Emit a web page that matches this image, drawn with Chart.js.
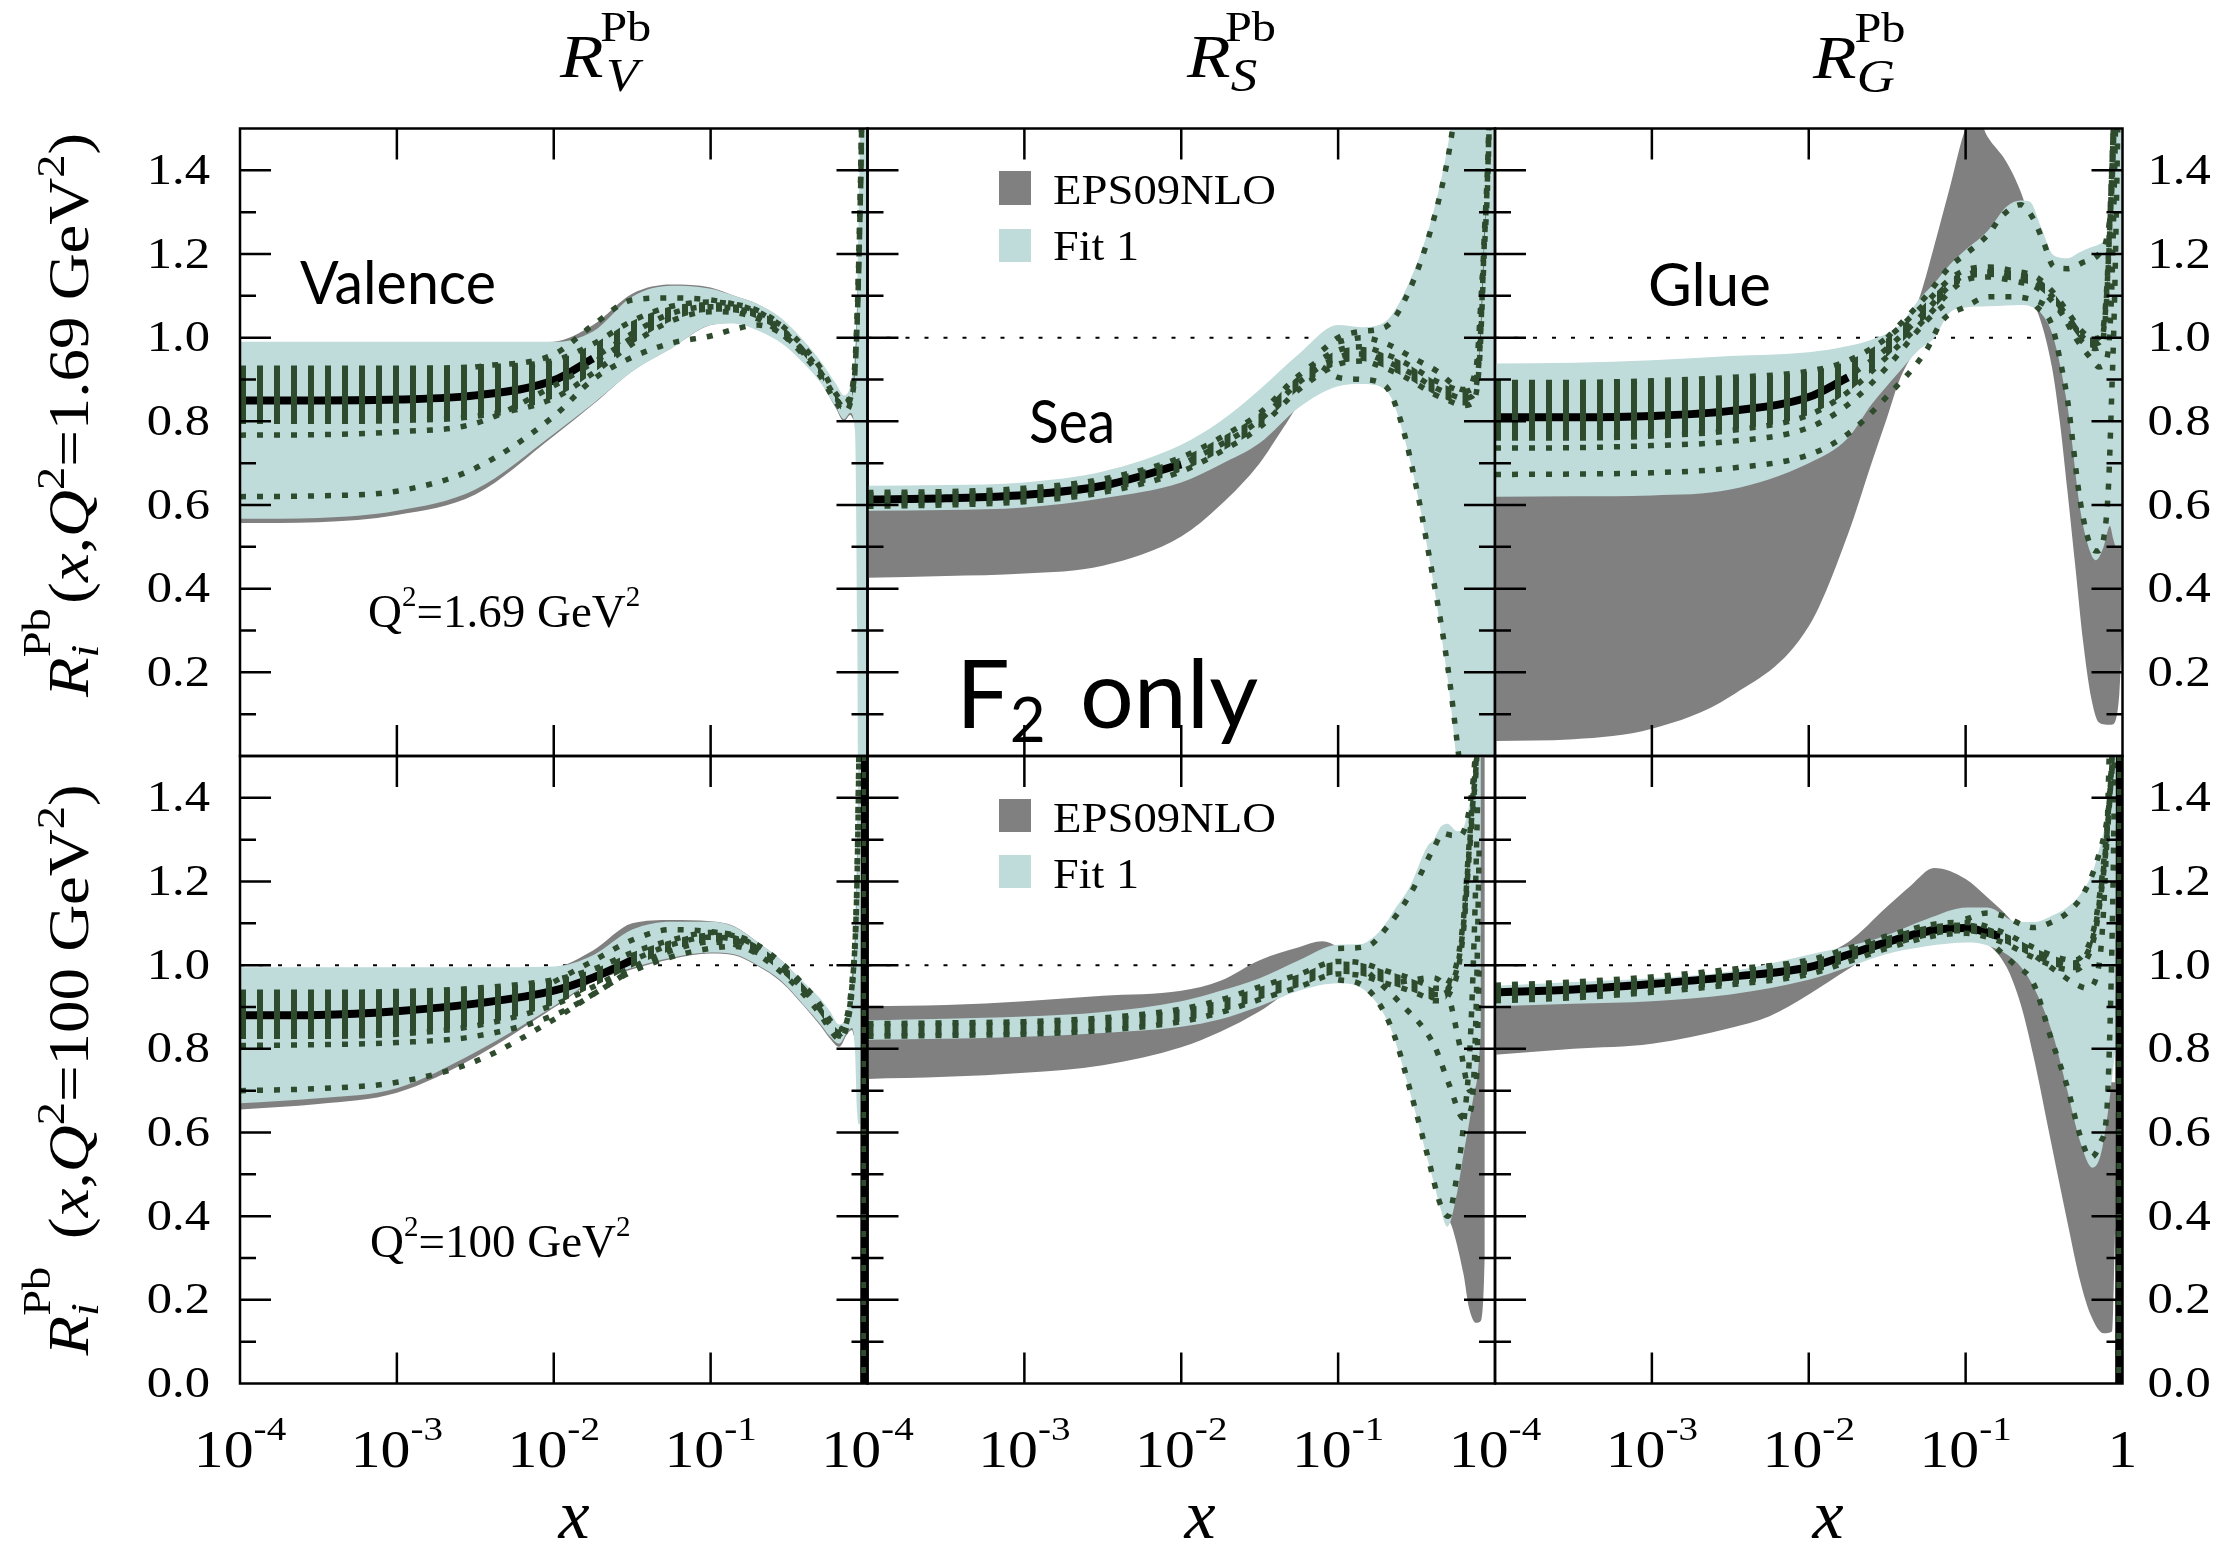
<!DOCTYPE html>
<html>
<head>
<meta charset="utf-8">
<title>Pb nuclear modification ratios</title>
<script src="https://cdn.jsdelivr.net/npm/chart.js@4.4.1/dist/chart.umd.min.js"></script>
<style>
  html, body { margin: 0; padding: 0; background: #fff; }
  #page { position: relative; width: 2237px; height: 1543px; overflow: hidden; background: #fff; }
  #page canvas, #page svg { position: absolute; left: 0; top: 0; }
</style>
</head>
<body>
<div id="page">
  <canvas id="p1" width="2237" height="1543"></canvas>
  <canvas id="p2" width="2237" height="1543"></canvas>
  <canvas id="p3" width="2237" height="1543"></canvas>
  <canvas id="p4" width="2237" height="1543"></canvas>
  <canvas id="p5" width="2237" height="1543"></canvas>
  <canvas id="p6" width="2237" height="1543"></canvas>

  <svg width="2237" height="1543" font-family="'Liberation Serif', serif" fill="#000">
    <!-- column headers -->
    <g transform="translate(560 77) scale(1.15 1)">
      <text font-size="62" font-style="italic">R</text>
      <text x="40" y="14" font-size="46" font-style="italic">V</text>
      <text x="35" y="-36" font-size="42">Pb</text>
    </g>
    <g transform="translate(1187 77) scale(1.15 1)">
      <text font-size="62" font-style="italic">R</text>
      <text x="38" y="14" font-size="46" font-style="italic">S</text>
      <text x="33" y="-36" font-size="42">Pb</text>
    </g>
    <g transform="translate(1813 78) scale(1.15 1)">
      <text font-size="62" font-style="italic">R</text>
      <text x="38" y="14" font-size="46" font-style="italic">G</text>
      <text x="36" y="-36" font-size="42">Pb</text>
    </g>

    <!-- y axis titles -->
    <g transform="translate(88 415) rotate(-90) scale(1.16 1)">
      <text font-size="56" text-anchor="middle"><tspan font-style="italic">R</tspan><tspan font-size="40" font-style="italic" dy="10">i</tspan><tspan font-size="40" dx="-11" dy="-48">Pb</tspan><tspan dy="38" dx="4">(</tspan><tspan font-style="italic">x</tspan><tspan>,</tspan><tspan font-style="italic">Q</tspan><tspan font-size="40" dy="-24">2</tspan><tspan dy="24">=1.69 GeV</tspan><tspan font-size="40" dy="-24">2</tspan><tspan dy="24">)</tspan></text>
    </g>
    <g transform="translate(88 1070) rotate(-90) scale(1.16 1)">
      <text font-size="56" text-anchor="middle"><tspan font-style="italic">R</tspan><tspan font-size="40" font-style="italic" dy="10">i</tspan><tspan font-size="40" dx="-11" dy="-48">Pb</tspan><tspan dy="38" dx="24">(</tspan><tspan font-style="italic">x</tspan><tspan>,</tspan><tspan font-style="italic">Q</tspan><tspan font-size="40" dy="-24">2</tspan><tspan dy="24">=100 GeV</tspan><tspan font-size="40" dy="-24">2</tspan><tspan dy="24">)</tspan></text>
    </g>

    <!-- x axis titles -->
    <text x="574" y="1538" font-size="70" font-style="italic" text-anchor="middle">x</text>
    <text x="1200" y="1538" font-size="70" font-style="italic" text-anchor="middle">x</text>
    <text x="1828" y="1538" font-size="70" font-style="italic" text-anchor="middle">x</text>

    <!-- panel annotations -->
    <text x="300" y="304" font-family="Lato" font-size="60" textLength="196" lengthAdjust="spacingAndGlyphs">Valence</text>
    <text x="1029" y="443" font-family="Lato" font-size="60" textLength="86" lengthAdjust="spacingAndGlyphs">Sea</text>
    <text x="1648" y="306" font-family="Lato" font-size="60">Glue</text>
    <text x="956" y="728" font-family="Lato" font-size="95">F<tspan font-size="62" dy="14">2</tspan><tspan x="1080" dy="-14">only</tspan></text>

    <text x="368" y="627" font-size="47">Q<tspan font-size="29" dy="-21">2</tspan><tspan dy="21">=1.69 GeV</tspan><tspan font-size="29" dy="-21">2</tspan></text>
    <text x="370" y="1257" font-size="47">Q<tspan font-size="29" dy="-21">2</tspan><tspan dy="21">=100 GeV</tspan><tspan font-size="29" dy="-21">2</tspan></text>

    <!-- legends -->
    <rect x="999" y="171" width="32" height="34" fill="#808080"/>
    <rect x="999" y="229" width="32" height="33" fill="#bfdbda"/>
    <text x="1053" y="204" font-size="43" textLength="223" lengthAdjust="spacingAndGlyphs">EPS09NLO</text>
    <text x="1053" y="260" font-size="43" textLength="86" lengthAdjust="spacingAndGlyphs">Fit 1</text>
    <rect x="999" y="799" width="32" height="33" fill="#808080"/>
    <rect x="999" y="855" width="32" height="33" fill="#bfdbda"/>
    <text x="1053" y="832" font-size="43" textLength="223" lengthAdjust="spacingAndGlyphs">EPS09NLO</text>
    <text x="1053" y="888" font-size="43" textLength="86" lengthAdjust="spacingAndGlyphs">Fit 1</text>
  </svg>
</div>

<script>
// Every curve is a list of [log10(x), value] points; bands are [log10(x), low, high].
// "eps" = EPS09NLO band, "fit" = Fit 1 band, "mid" = central fit,
// "set" = spread of the error-set members, "dot*" = individual error sets.

const yMajor = [0.2, 0.4, 0.6, 0.8, 1.0, 1.2, 1.4];
const yMinor = [0.1, 0.3, 0.5, 0.7, 0.9, 1.1, 1.3];
const xMajor = [1e-3, 1e-2, 1e-1];
const yLabelsTop = [0.2, 0.4, 0.6, 0.8, 1.0, 1.2, 1.4];
const yLabelsBottom = [0.0, 0.2, 0.4, 0.6, 0.8, 1.0, 1.2, 1.4];
const xExpInner = [-4, -3, -2, -1];
const xExpLast = [-4, -3, -2, -1, 0];
const unitRatio = [[-4, 1.0], [0, 1.0]];

// ---- valence, Q2 = 1.69 GeV2 ----
const V1_eps = [[-4,0.557,0.985],[-3.5,0.559,0.985],[-3,0.576,0.985],[-2.5,0.625,0.985],[-2,0.765,0.99],[-1.75,0.84,1.03],[-1.5,0.92,1.105],[-1.25,0.975,1.127],[-1,1.03,1.12],[-0.85,1.035,1.1],[-0.7,1.02,1.08],[-0.55,0.99,1.045],[-0.4,0.94,0.985],[-0.3,0.895,0.94],[-0.2,0.83,0.885],[-0.15,0.80,0.86],[-0.11,0.815,0.88],[-0.08,0.80,0.95],[-0.07,0.80,1.0]];
const V1_fit = [[-4,0.567,0.990],[-3.5,0.569,0.990],[-3,0.586,0.990],[-2.5,0.637,0.990],[-2,0.770,0.990],[-1.75,0.842,1.015],[-1.5,0.919,1.098],[-1.25,0.974,1.124],[-1,1.030,1.117],[-0.85,1.034,1.100],[-0.7,1.017,1.080],[-0.55,0.987,1.047],[-0.4,0.936,0.990],[-0.3,0.893,0.944],[-0.2,0.833,0.889],[-0.15,0.805,0.862],[-0.11,0.82,0.885],[-0.08,0.78,0.97],[-0.065,0.3,1.12],[-0.055,-0.5,1.32],[-0.04,-0.5,1.6],[0,-0.5,1.6]];
const V1_mid = [[-4,0.850],[-3.5,0.850],[-3,0.852],[-2.5,0.862],[-2,0.898],[-1.75,0.950],[-1.5,1.010],[-1.25,1.058],[-1,1.074],[-0.85,1.070],[-0.7,1.055],[-0.55,1.020],[-0.4,0.965],[-0.3,0.918],[-0.2,0.855],[-0.15,0.834],[-0.11,0.853],[-0.08,0.93],[-0.063,1.078],[-0.05,1.27],[-0.038,1.5],[-0.03,1.8]];
const V1_set = [[-4,0.800,0.927],[-3.5,0.800,0.927],[-3,0.802,0.927],[-2.5,0.812,0.930],[-2,0.855,0.945],[-1.75,0.915,0.985],[-1.5,0.985,1.040],[-1.25,1.040,1.075],[-1,1.062,1.085],[-0.85,1.060,1.080],[-0.7,1.045,1.065],[-0.55,1.010,1.030],[-0.4,0.955,0.975],[-0.3,0.908,0.928],[-0.2,0.845,0.865],[-0.15,0.824,0.844],[-0.11,0.843,0.863],[-0.08,0.92,0.94],[-0.063,1.068,1.088],[-0.05,1.26,1.28],[-0.038,1.49,1.51],[-0.03,1.8,1.8]];
const V1_dotA = [[-4,0.767],[-3.5,0.768],[-3,0.775],[-2.5,0.795],[-2,0.885],[-1.75,0.94],[-1.5,1.0]];
const V1_dotB = [[-4,0.620],[-3.5,0.622],[-3,0.633],[-2.5,0.688],[-2,0.812],[-1.75,0.90],[-1.5,0.953],[-1.25,0.987],[-1,1.004],[-0.85,1.02],[-0.7,1.03],[-0.55,1.01],[-0.4,0.96]];
const V1_dotC = [[-2.5,0.93],[-2,0.96],[-1.75,1.03],[-1.5,1.09],[-1.25,1.095],[-1,1.09],[-0.85,1.08],[-0.7,1.062],[-0.55,1.03]];

// ---- sea, Q2 = 1.69 GeV2 ----
const S1_eps = [[-4,0.426,0.60],[-3.5,0.430,0.60],[-3,0.436,0.61],[-2.5,0.455,0.63],[-2,0.525,0.67],[-1.75,0.60,0.72],[-1.5,0.70,0.77],[-1.35,0.784,0.82],[-1.2,0.865,0.88],[-1,0.89,0.95],[-0.7,0.89,0.96],[-0.55,0.80,1.0],[-0.4,0.6,1.1],[-0.2,0.4,1.3],[0,0.4,1.3]];
const S1_fit = [[-4,0.586,0.646],[-3.5,0.588,0.648],[-3,0.594,0.654],[-2.5,0.616,0.680],[-2,0.654,0.744],[-1.75,0.697,0.800],[-1.5,0.748,0.876],[-1.25,0.833,0.961],[-1,0.884,1.030],[-0.85,0.889,1.025],[-0.7,0.876,1.038],[-0.55,0.72,1.13],[-0.4,0.43,1.29],[-0.3,0.18,1.46],[-0.2,-0.1,1.7],[0,-0.1,1.7]];
const S1_mid = [[-4,0.613],[-3.5,0.616],[-3,0.624],[-2.5,0.646],[-2,0.697],[-1.75,0.744],[-1.5,0.803],[-1.25,0.893],[-1,0.953],[-0.85,0.961],[-0.7,0.944],[-0.55,0.918],[-0.4,0.884],[-0.3,0.867],[-0.2,0.855],[-0.15,0.859],[-0.1,0.953],[-0.07,1.21],[-0.04,1.48],[-0.03,1.7]];
const S1_set = [[-4,0.597,0.630],[-3.5,0.600,0.632],[-3,0.608,0.640],[-2.5,0.630,0.662],[-2,0.680,0.714],[-1.75,0.727,0.761],[-1.5,0.786,0.820],[-1.25,0.876,0.910],[-1,0.936,0.970],[-0.85,0.944,0.978],[-0.7,0.927,0.961],[-0.55,0.901,0.935],[-0.4,0.867,0.901],[-0.3,0.850,0.884],[-0.2,0.838,0.872],[-0.15,0.842,0.876],[-0.1,0.936,0.970],[-0.07,1.19,1.23],[-0.04,1.46,1.50],[-0.03,1.7,1.7]];
const S1_dotUp = [[-1.1,0.97],[-1,1.0],[-0.85,1.015],[-0.7,1.025],[-0.55,1.11],[-0.4,1.27],[-0.3,1.43],[-0.25,1.55]];
const S1_dotDn = [[-1.1,0.93],[-1,0.905],[-0.85,0.90],[-0.7,0.885],[-0.6,0.80],[-0.5,0.64],[-0.43,0.50],[-0.3,0.21],[-0.25,0.06],[-0.2,-0.1]];
const S1_dotMid = [[-1,0.99],[-0.85,1.0],[-0.69,0.985],[-0.53,0.953],[-0.37,0.92],[-0.2,0.876],[-0.12,0.93],[-0.08,1.15]];

// ---- glue, Q2 = 1.69 GeV2 ----
const G1_eps = [[-4,0.036,0.80],[-3.5,0.040,0.80],[-3,0.065,0.80],[-2.5,0.142,0.81],[-2,0.31,0.85],[-1.75,0.53,0.90],[-1.6,0.70,0.95],[-1.5,0.81,0.99],[-1.42,0.90,1.0],[-1.3,0.98,1.09],[-1.2,1.02,1.22],[-1.1,1.08,1.36],[-1,1.09,1.50],[-0.93,1.10,1.53],[-0.86,1.10,1.48],[-0.74,1.10,1.42],[-0.65,1.10,1.35],[-0.59,1.09,1.28],[-0.55,1.07,1.22],[-0.45,0.93,1.1],[-0.4,0.80,1.05],[-0.35,0.63,1.0],[-0.3,0.45,0.95],[-0.25,0.27,0.9],[-0.2,0.14,0.85],[-0.15,0.08,0.8],[-0.1,0.075,0.8],[-0.07,0.075,0.75],[-0.04,0.09,0.7],[-0.02,0.15,0.6],[0,0.3,0.55]];
const G1_fit = [[-4,0.620,0.938],[-3.5,0.621,0.940],[-3,0.623,0.946],[-2.5,0.637,0.956],[-2,0.70,0.965],[-1.75,0.76,0.98],[-1.6,0.84,0.995],[-1.42,0.92,1.03],[-1.3,0.97,1.09],[-1.2,1.0,1.13],[-1.1,1.06,1.175],[-1,1.072,1.21],[-0.86,1.075,1.255],[-0.74,1.077,1.313],[-0.65,1.078,1.328],[-0.59,1.075,1.325],[-0.52,1.059,1.265],[-0.44,1.0,1.197],[-0.35,0.834,1.19],[-0.27,0.59,1.205],[-0.2,0.482,1.216],[-0.17,0.468,1.22],[-0.12,0.50,1.23],[-0.08,0.55,1.27],[-0.06,0.52,1.45],[-0.04,0.5,1.7],[0,0.5,1.7]];
const G1_mid = [[-4,0.810],[-3.5,0.810],[-3,0.813],[-2.5,0.825],[-2,0.858],[-1.75,0.905],[-1.5,0.975],[-1.25,1.065],[-1.1,1.125],[-1,1.150],[-0.85,1.157],[-0.7,1.148],[-0.55,1.133],[-0.45,1.10],[-0.35,1.05],[-0.25,1.0],[-0.17,0.986],[-0.13,1.0],[-0.1,1.11],[-0.07,1.38],[-0.05,1.6]];
const G1_set = [[-4,0.760,0.893],[-3.5,0.760,0.893],[-3,0.765,0.897],[-2.5,0.778,0.905],[-2,0.815,0.92],[-1.75,0.87,0.945],[-1.5,0.955,1.0],[-1.25,1.048,1.085],[-1.1,1.11,1.14],[-1,1.138,1.162],[-0.85,1.145,1.169],[-0.7,1.136,1.16],[-0.55,1.12,1.145],[-0.45,1.088,1.112],[-0.35,1.038,1.062],[-0.25,0.988,1.012],[-0.17,0.974,0.998],[-0.13,0.988,1.012],[-0.1,1.098,1.122],[-0.07,1.37,1.39],[-0.05,1.6,1.6]];
const G1_dotA = [[-4,0.736],[-3.5,0.737],[-3,0.742],[-2.5,0.752],[-2,0.785],[-1.75,0.84],[-1.5,0.93],[-1.25,1.04],[-1.1,1.09]];
const G1_dotB = [[-4,0.673],[-3.5,0.674],[-3,0.677],[-2.5,0.688],[-2,0.72],[-1.75,0.77],[-1.5,0.86],[-1.25,0.97],[-1.15,1.04],[-1,1.074],[-0.85,1.098],[-0.7,1.098],[-0.55,1.088],[-0.45,1.07]];
const G1_dotUp = [[-1.5,1.0],[-1.25,1.1],[-1.1,1.17],[-1,1.2],[-0.86,1.245],[-0.77,1.29],[-0.65,1.318],[-0.57,1.285],[-0.5,1.225],[-0.44,1.17],[-0.35,1.165],[-0.25,1.18],[-0.15,1.2],[-0.1,1.24],[-0.07,1.34],[-0.05,1.55]];
const G1_dotDn = [[-0.55,1.075],[-0.45,1.03],[-0.4,0.95],[-0.35,0.85],[-0.27,0.61],[-0.2,0.50],[-0.16,0.49],[-0.12,0.52],[-0.09,0.64],[-0.07,0.85],[-0.05,1.1],[-0.03,1.5]];
const G1_dotMid = [[-0.4,1.07],[-0.3,1.0],[-0.2,0.95],[-0.15,0.93],[-0.1,0.95],[-0.07,1.1],[-0.05,1.4],[-0.04,1.6]];

// ---- valence, Q2 = 100 GeV2 ----
const V2_eps = [[-4,0.655,0.99],[-3.5,0.668,0.99],[-3,0.695,0.99],[-2.5,0.78,0.99],[-2,0.898,0.995],[-1.75,0.96,1.035],[-1.5,0.99,1.1],[-1.25,1.015,1.108],[-1,1.028,1.105],[-0.85,1.024,1.093],[-0.7,0.998,1.055],[-0.55,0.96,1.012],[-0.4,0.9,0.955],[-0.3,0.855,0.918],[-0.24,0.825,0.888],[-0.18,0.805,0.855],[-0.13,0.835,0.885],[-0.1,0.845,0.95],[-0.08,0.82,1.0]];
const V2_fit = [[-4,0.670,0.995],[-3.5,0.682,0.995],[-3,0.706,0.995],[-2.5,0.792,0.995],[-2,0.902,0.997],[-1.75,0.963,1.024],[-1.5,0.994,1.085],[-1.25,1.018,1.104],[-1,1.030,1.104],[-0.85,1.026,1.092],[-0.7,1.0,1.055],[-0.55,0.963,1.012],[-0.4,0.902,0.957],[-0.3,0.859,0.920],[-0.24,0.83,0.89],[-0.18,0.812,0.858],[-0.13,0.84,0.89],[-0.1,0.85,0.98],[-0.08,0.80,1.1],[-0.066,0.65,1.3],[-0.055,0.62,1.55],[-0.045,0.62,1.7]];
const V2_mid = [[-4,0.880],[-3.5,0.881],[-3,0.890],[-2.5,0.908],[-2,0.939],[-1.75,0.970],[-1.5,1.012],[-1.25,1.049],[-1,1.067],[-0.85,1.061],[-0.7,1.037],[-0.55,0.994],[-0.4,0.939],[-0.3,0.893],[-0.24,0.858],[-0.18,0.835],[-0.13,0.868],[-0.1,0.945],[-0.077,1.074],[-0.066,1.22],[-0.055,1.5],[-0.048,1.8]];
const V2_set = [[-4,0.830,0.935],[-3.5,0.830,0.935],[-3,0.835,0.937],[-2.5,0.855,0.945],[-2,0.905,0.965],[-1.75,0.948,0.99],[-1.5,0.995,1.03],[-1.25,1.035,1.06],[-1,1.055,1.078],[-0.85,1.05,1.072],[-0.7,1.026,1.048],[-0.55,0.983,1.005],[-0.4,0.928,0.95],[-0.3,0.882,0.904],[-0.24,0.847,0.869],[-0.18,0.824,0.846],[-0.13,0.857,0.879],[-0.1,0.934,0.956],[-0.077,1.063,1.085],[-0.066,1.21,1.23],[-0.055,1.49,1.51],[-0.048,1.8,1.8]];
const V2_dotA = [[-4,0.808],[-3.5,0.810],[-3,0.815],[-2.5,0.83],[-2,0.88],[-1.75,0.93],[-1.5,0.99]];
const V2_dotB = [[-4,0.700],[-3.5,0.705],[-3,0.72],[-2.5,0.77],[-2,0.87],[-1.75,0.93],[-1.5,0.985],[-1.25,1.02],[-1,1.04],[-0.85,1.045],[-0.7,1.03]];
const V2_dotC = [[-2,0.96],[-1.75,1.01],[-1.5,1.06],[-1.25,1.085],[-1,1.08],[-0.85,1.07],[-0.7,1.045]];
const V2_pole = [[-0.022,-0.3],[-0.016,1.8]];

// ---- sea, Q2 = 100 GeV2 ----
const S2_eps = [[-4,0.728,0.902],[-3.5,0.733,0.905],[-3,0.743,0.914],[-2.5,0.761,0.927],[-2,0.804,0.939],[-1.75,0.841,0.963],[-1.5,0.89,1.012],[-1.25,0.951,1.043],[-1.1,0.96,1.057],[-1,0.965,1.043],[-0.86,0.96,1.0],[-0.75,0.93,0.98],[-0.645,0.86,0.97],[-0.54,0.74,0.96],[-0.43,0.60,0.95],[-0.35,0.48,0.95],[-0.3,0.40,0.95],[-0.27,0.37,0.97],[-0.2,0.26,1.0],[-0.165,0.18,1.15],[-0.12,0.145,1.45],[-0.09,0.15,1.6],[-0.075,0.2,1.6],[-0.065,0.3,1.6]];
const S2_fit = [[-4,0.822,0.868],[-3.5,0.824,0.872],[-3,0.829,0.877],[-2.5,0.838,0.888],[-2,0.853,0.914],[-1.75,0.871,0.939],[-1.5,0.902,0.969],[-1.25,0.939,1.012],[-1,0.957,1.049],[-0.86,0.947,1.05],[-0.75,0.908,1.075],[-0.69,0.87,1.103],[-0.645,0.829,1.13],[-0.54,0.693,1.19],[-0.43,0.536,1.285],[-0.39,0.48,1.30],[-0.347,0.418,1.33],[-0.304,0.375,1.338],[-0.24,0.459,1.32],[-0.2,0.55,1.33],[-0.166,0.62,1.38],[-0.135,0.69,1.46],[-0.113,0.731,1.55],[-0.09,0.83,1.65]];
const S2_mid = [[-4,0.845],[-3.5,0.847],[-3,0.850],[-2.5,0.859],[-2,0.880],[-1.75,0.902],[-1.5,0.933],[-1.25,0.963],[-1,0.994],[-0.85,0.99],[-0.7,0.972],[-0.55,0.955],[-0.45,0.94],[-0.39,0.93],[-0.33,0.93],[-0.28,0.955],[-0.24,0.996],[-0.2,1.10],[-0.166,1.27],[-0.135,1.416],[-0.117,1.5],[-0.1,1.7]];
const S2_set = [[-4,0.830,0.860],[-3.5,0.832,0.862],[-3,0.835,0.865],[-2.5,0.844,0.874],[-2,0.865,0.895],[-1.75,0.887,0.917],[-1.5,0.918,0.948],[-1.25,0.948,0.978],[-1,0.979,1.009],[-0.85,0.975,1.005],[-0.7,0.957,0.987],[-0.55,0.94,0.97],[-0.45,0.925,0.955],[-0.39,0.915,0.945],[-0.33,0.915,0.945],[-0.28,0.94,0.97],[-0.24,0.981,1.011],[-0.2,1.085,1.115],[-0.166,1.255,1.285],[-0.135,1.40,1.43],[-0.117,1.49,1.51],[-0.1,1.7,1.7]];
const S2_dotUp = [[-1,1.04],[-0.815,1.045],[-0.69,1.09],[-0.54,1.17],[-0.39,1.28],[-0.33,1.315],[-0.27,1.31],[-0.22,1.31],[-0.17,1.36],[-0.14,1.44],[-0.12,1.53]];
const S2_dotDn = [[-1,0.965],[-0.86,0.955],[-0.75,0.915],[-0.645,0.835],[-0.54,0.70],[-0.43,0.545],[-0.35,0.43],[-0.3,0.40],[-0.25,0.48],[-0.2,0.62],[-0.16,0.8],[-0.13,1.1],[-0.11,1.4]];
const S2_dotMid = [[-0.8,0.98],[-0.6,0.908],[-0.39,0.81],[-0.29,0.712],[-0.2,0.634],[-0.15,0.66],[-0.12,0.9],[-0.1,1.3]];
const S2_dotMid2 = [[-0.6,0.96],[-0.4,0.97],[-0.3,0.93],[-0.22,0.80],[-0.16,0.70],[-0.12,0.72],[-0.1,1.0]];

// ---- glue, Q2 = 100 GeV2 ----
const G2_eps = [[-4,0.786,0.94],[-3.5,0.80,0.945],[-3,0.812,0.955],[-2.5,0.85,0.975],[-2.25,0.878,0.99],[-2,0.93,1.015],[-1.75,0.99,1.055],[-1.5,1.05,1.14],[-1.35,1.07,1.19],[-1.2,1.08,1.232],[-1,1.07,1.206],[-0.86,1.05,1.162],[-0.74,0.996,1.12],[-0.65,0.908,1.08],[-0.566,0.78,1.05],[-0.46,0.585,0.98],[-0.353,0.389,0.92],[-0.268,0.242,0.86],[-0.204,0.165,0.8],[-0.12,0.12,0.75],[-0.065,0.125,0.72],[-0.045,0.4,0.72]];
const G2_fit = [[-4,0.902,0.951],[-3.5,0.908,0.96],[-3,0.914,0.969],[-2.5,0.93,0.985],[-2,0.965,1.025],[-1.75,0.995,1.045],[-1.52,1.025,1.069],[-1.25,1.045,1.11],[-0.99,1.054,1.138],[-0.86,1.047,1.138],[-0.67,1.005,1.103],[-0.566,0.947,1.103],[-0.44,0.829,1.12],[-0.353,0.702,1.138],[-0.268,0.576,1.17],[-0.193,0.516,1.22],[-0.14,0.545,1.289],[-0.098,0.634,1.36],[-0.076,0.70,1.42],[-0.06,0.75,1.55],[-0.04,0.8,1.7],[-0.015,0.8,1.7]];
const G2_mid = [[-4,0.935],[-3.5,0.942],[-3,0.955],[-2.5,0.972],[-2,0.995],[-1.75,1.025],[-1.5,1.055],[-1.2,1.084],[-1,1.089],[-0.78,1.069],[-0.566,1.03],[-0.4,1.005],[-0.31,1.0],[-0.247,1.015],[-0.183,1.074],[-0.14,1.172],[-0.098,1.318],[-0.076,1.436],[-0.065,1.5],[-0.055,1.7]];
const G2_set = [[-4,0.915,0.952],[-3.5,0.922,0.96],[-3,0.935,0.972],[-2.5,0.953,0.99],[-2,0.978,1.012],[-1.75,1.008,1.04],[-1.5,1.04,1.07],[-1.2,1.07,1.098],[-1,1.076,1.102],[-0.78,1.057,1.081],[-0.566,1.018,1.042],[-0.4,0.993,1.017],[-0.31,0.988,1.012],[-0.247,1.003,1.027],[-0.183,1.062,1.086],[-0.14,1.16,1.184],[-0.098,1.306,1.33],[-0.076,1.425,1.447],[-0.065,1.49,1.51],[-0.055,1.7,1.7]];
const G2_dotUp = [[-1,1.11],[-0.86,1.125],[-0.78,1.12],[-0.566,1.09],[-0.44,1.105],[-0.353,1.125],[-0.25,1.17],[-0.162,1.25],[-0.098,1.35],[-0.08,1.41],[-0.065,1.52]];
const G2_dotDn = [[-0.8,1.04],[-0.7,1.005],[-0.566,0.955],[-0.459,0.829],[-0.353,0.71],[-0.268,0.59],[-0.204,0.54],[-0.14,0.576],[-0.1,0.65],[-0.08,0.85],[-0.06,1.2],[-0.05,1.5]];
const G2_dotMid = [[-0.55,1.02],[-0.4,0.98],[-0.3,0.955],[-0.226,0.945],[-0.15,1.0],[-0.1,1.3],[-0.085,1.5]];
const G2_pole = [[-0.022,-0.3],[-0.016,1.8]];

const GREEN = '#2e4b2e';
const TEAL = '#bfdbda';
const GREY = '#808080';
const DOT = [6, 11];
const W = 2237, H = 1543;

// plot boxes: [left, top, right, bottom] in page pixels
const panels = [
  { canvas: 'p1', box: [240, 128.5, 867.5, 756], eps: V1_eps, fit: V1_fit, mid: V1_mid, set: V1_set,
    dots: [V1_dotA, V1_dotB, V1_dotC], blackTo: -1.75, greenFrom: -1.75, unit: false, pole: null,
    axes: { ySide: 'left', bottomRow: false, xExps: null } },
  { canvas: 'p2', box: [867.5, 128.5, 1495, 756], eps: S1_eps, fit: S1_fit, mid: S1_mid, set: S1_set,
    dots: [S1_dotUp, S1_dotDn, S1_dotMid], blackTo: -2, greenFrom: -2, unit: true, pole: null,
    axes: { ySide: null, bottomRow: false, xExps: null } },
  { canvas: 'p3', box: [1495, 128.5, 2122.5, 756], eps: G1_eps, fit: G1_fit, mid: G1_mid, set: G1_set,
    dots: [G1_dotA, G1_dotB, G1_dotUp, G1_dotDn, G1_dotMid], blackTo: -1.75, greenFrom: -1.75, unit: true, pole: null,
    axes: { ySide: 'right', bottomRow: false, xExps: null } },
  { canvas: 'p4', box: [240, 756, 867.5, 1383.5], eps: V2_eps, fit: V2_fit, mid: V2_mid, set: V2_set,
    dots: [V2_dotA, V2_dotB, V2_dotC], blackTo: -1.5, greenFrom: -1.5, unit: true, pole: V2_pole,
    axes: { ySide: 'left', bottomRow: true, xExps: xExpInner } },
  { canvas: 'p5', box: [867.5, 756, 1495, 1383.5], eps: S2_eps, fit: S2_fit, mid: S2_mid, set: S2_set,
    dots: [S2_dotUp, S2_dotDn, S2_dotMid, S2_dotMid2], blackTo: -9, greenFrom: -0.45, unit: true, pole: null,
    axes: { ySide: null, bottomRow: true, xExps: xExpInner } },
  { canvas: 'p6', box: [1495, 756, 2122.5, 1383.5], eps: G2_eps, fit: G2_fit, mid: G2_mid, set: G2_set,
    dots: [G2_dotUp, G2_dotDn, G2_dotMid], blackTo: -0.7, greenFrom: -0.7, unit: true, pole: G2_pole,
    axes: { ySide: 'right', bottomRow: true, xExps: xExpLast } }
];

// frame, inward ticks and tick labels for one panel
const panelAxes = {
  id: 'panelAxes',
  afterDatasetsDraw(chart, args, o) {
    const { ctx, chartArea: a } = chart;
    const x = chart.scales.x, y = chart.scales.y;
    ctx.save();
    ctx.strokeStyle = '#000';
    ctx.lineWidth = 2.5;
    ctx.beginPath();
    yMajor.forEach(v => {
      const p = y.getPixelForValue(v);
      ctx.moveTo(a.left, p); ctx.lineTo(a.left + 31, p);
      ctx.moveTo(a.right, p); ctx.lineTo(a.right - 31, p);
    });
    yMinor.forEach(v => {
      const p = y.getPixelForValue(v);
      ctx.moveTo(a.left, p); ctx.lineTo(a.left + 16, p);
      ctx.moveTo(a.right, p); ctx.lineTo(a.right - 16, p);
    });
    xMajor.forEach(v => {
      const p = x.getPixelForValue(v);
      ctx.moveTo(p, a.top); ctx.lineTo(p, a.top + 31);
      ctx.moveTo(p, a.bottom); ctx.lineTo(p, a.bottom - 31);
    });
    ctx.stroke();
    ctx.strokeRect(a.left, a.top, a.right - a.left, a.bottom - a.top);

    ctx.fillStyle = '#000';
    if (o.ySide) {
      const vals = o.bottomRow ? yLabelsBottom : yLabelsTop;
      ctx.font = "44px 'Liberation Serif'";
      ctx.textBaseline = 'middle';
      vals.forEach(v => {
        const p = y.getPixelForValue(v) + 2;
        ctx.save();
        if (o.ySide === 'left') { ctx.translate(a.left - 30, p); ctx.textAlign = 'right'; }
        else { ctx.translate(a.right + 25, p); ctx.textAlign = 'left'; }
        ctx.scale(1.15, 1);
        ctx.fillText(v.toFixed(1), 0, 0);
        ctx.restore();
      });
    }
    if (o.xExps) {
      ctx.textBaseline = 'alphabetic';
      ctx.textAlign = 'left';
      o.xExps.forEach(e => {
        const p = x.getPixelForValue(10 ** e);
        const base = e === 0 ? '1' : '10';
        const sup = e === 0 ? '' : String(e);
        ctx.font = "52px 'Liberation Serif'";
        const wb = ctx.measureText(base).width;
        ctx.font = "34px 'Liberation Serif'";
        const ws = sup ? ctx.measureText(sup).width : 0;
        const sx = 1.15;
        ctx.save();
        ctx.translate(p - (wb + ws) * sx / 2, a.bottom + 83);
        ctx.scale(sx, 1);
        ctx.font = "52px 'Liberation Serif'";
        ctx.fillText(base, 0, 0);
        if (sup) { ctx.font = "34px 'Liberation Serif'"; ctx.fillText(sup, wb, -27); }
        ctx.restore();
      });
    }
    ctx.restore();
  }
};

function pts(rows, k) {
  return rows.map(r => ({ x: 10 ** r[0], y: r[k] }));
}

function stroke(data, color, width, dash, order, offset) {
  return {
    data, borderColor: color, borderWidth: width, borderDash: dash || [], borderDashOffset: offset || 0,
    pointRadius: 0, fill: false, order, cubicInterpolationMode: 'monotone'
  };
}

function band(rows, color, order) {
  return [
    { data: pts(rows, 1), borderColor: 'transparent', borderWidth: 0, pointRadius: 0,
      fill: false, order, cubicInterpolationMode: 'monotone' },
    { data: pts(rows, 2), borderColor: 'transparent', borderWidth: 0, pointRadius: 0,
      fill: '-1', backgroundColor: color, order, cubicInterpolationMode: 'monotone' }
  ];
}

// vertical green stripes that line up with the dotted pattern
function stripes(cv, left) {
  const tile = document.createElement('canvas');
  tile.width = 17; tile.height = 4;
  const t = tile.getContext('2d');
  t.fillStyle = GREEN;
  t.fillRect(0, 0, 6, 4);
  const pat = cv.getContext('2d').createPattern(tile, 'repeat');
  pat.setTransform(new DOMMatrix([1, 0, 0, 1, left, 0]));
  return pat;
}

function hatch(rows, pattern, order) {
  const lo = stroke(pts(rows, 1), GREEN, 5.5, DOT, order);
  const hi = stroke(pts(rows, 2), GREEN, 5.5, DOT, order);
  hi.fill = '-1';
  hi.backgroundColor = pattern;
  return [lo, hi];
}

panels.forEach(p => {
  const cv = document.getElementById(p.canvas);
  const ds = [];
  if (p.unit) ds.push(stroke(pts(unitRatio, 1), '#000', 2, [4, 15], 100));
  ds.push(...band(p.eps, GREY, 90));
  ds.push(...band(p.fit, TEAL, 80));
  const black = p.mid.filter(r => r[0] <= p.blackTo);
  if (black.length > 1) ds.push(stroke(pts(black, 1), '#000', 8, [], 70));
  ds.push(...hatch(p.set, stripes(cv, p.box[0]), 60));
  const green = p.mid.filter(r => r[0] >= p.greenFrom);
  ds.push(stroke(pts(green, 1), GREEN, 5.5, DOT, 55, 8.5));
  p.dots.forEach(d => ds.push(stroke(pts(d, 1), GREEN, 5.5, DOT, 50)));
  if (p.pole) {
    ds.push(stroke(pts(p.pole, 1), '#000', 8, [], 45));
    ds.push(stroke(pts(p.pole, 1), GREEN, 6, DOT, 44));
  }

  new Chart(cv, {
    type: 'line',
    data: { datasets: ds },
    options: {
      responsive: false,
      animation: false,
      devicePixelRatio: 1,
      events: [],
      layout: { padding: { left: p.box[0], top: p.box[1], right: W - p.box[2], bottom: H - p.box[3] } },
      scales: {
        x: { type: 'logarithmic', min: 1e-4, max: 1, display: false },
        y: { type: 'linear', min: 0, max: 1.5, display: false }
      },
      plugins: {
        legend: { display: false },
        tooltip: { enabled: false },
        panelAxes: p.axes
      }
    },
    plugins: [panelAxes]
  });
});
</script>
</body>
</html>
